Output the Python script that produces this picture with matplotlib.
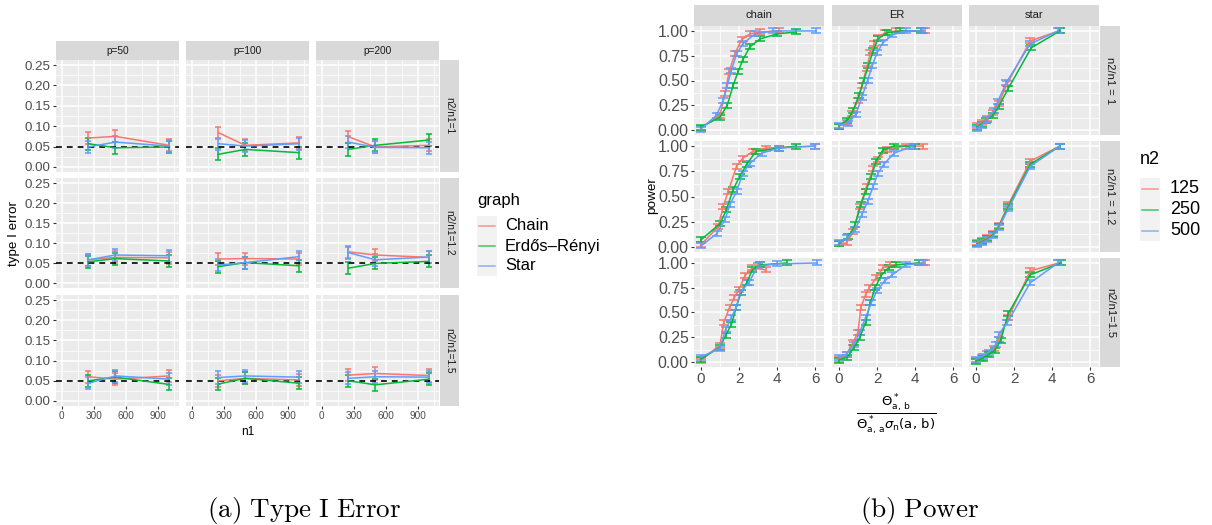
import matplotlib
matplotlib.use("Agg")
import matplotlib.pyplot as plt
from matplotlib.lines import Line2D
from matplotlib.patches import Rectangle

plt.rcParams['font.family'] = ['Liberation Sans', 'DejaVu Sans']
plt.rcParams['mathtext.fontset'] = 'dejavusans'

W, H = 1212, 525

# ---------------- Type I error data ----------------
N1 = [250, 500, 1000]
P_LABELS = ['p=50', 'p=100', 'p=200']
T1_ROW_LABELS = ['n2/n1=1', 'n2/n1=1.2', 'n2/n1=1.5']
GRAPH_NAMES = ['Chain', 'Erdős–Rényi', 'Star']
T1_ERR = 0.015  # half-width of the error bars
T1_THRESHOLD = 0.05

# rows: ratio, inner lists: p=50, p=100, p=200 ; values at n1 = 250, 500, 1000
t1_chain_r1 = [[0.071, 0.075, 0.053], [0.084, 0.053, 0.059], [0.074, 0.049, 0.053]]
t1_er_r1 = [[0.057, 0.047, 0.049], [0.031, 0.043, 0.035], [0.043, 0.053, 0.066]]
t1_star_r1 = [[0.049, 0.061, 0.051], [0.057, 0.051, 0.057], [0.061, 0.048, 0.047]]

t1_chain_r2 = [[0.058, 0.064, 0.063], [0.060, 0.061, 0.060], [0.078, 0.070, 0.064]]
t1_er_r2 = [[0.053, 0.061, 0.055], [0.041, 0.051, 0.043], [0.037, 0.049, 0.054]]
t1_star_r2 = [[0.058, 0.070, 0.068], [0.045, 0.051, 0.066], [0.076, 0.058, 0.065]]

t1_chain_r3 = [[0.060, 0.054, 0.062], [0.050, 0.056, 0.052], [0.064, 0.068, 0.063]]
t1_er_r3 = [[0.050, 0.059, 0.041], [0.042, 0.056, 0.044], [0.050, 0.040, 0.054]]
t1_star_r3 = [[0.044, 0.062, 0.054], [0.058, 0.062, 0.059], [0.056, 0.060, 0.059]]

# ---------------- Power data ----------------
PW_COL_LABELS = ['chain', 'ER', 'star']
PW_ROW_LABELS = ['n2/n1 = 1', 'n2/n1 = 1.2', 'n2/n1=1.5']
N2_LEVELS = ['125', '250', '500']
PW_ERR = 0.025

# chain, n2/n1 = 1
pw_chain_r1_125_x = [0, 1.0, 1.26, 1.48, 1.78, 2.13, 2.57, 3.1, 4.1]
pw_chain_r1_125_y = [0.02, 0.15, 0.37, 0.59, 0.77, 0.91, 0.97, 0.99, 1.0]
pw_chain_r1_250_x = [0, 1.0, 1.38, 1.69, 1.95, 2.2, 2.57, 3.1, 4.0, 5.0]
pw_chain_r1_250_y = [0.03, 0.13, 0.25, 0.45, 0.59, 0.71, 0.84, 0.92, 0.97, 0.99]
pw_chain_r1_500_x = [0, 0.82, 1.17, 1.38, 1.6, 1.87, 2.2, 2.83, 3.8, 6.05]
pw_chain_r1_500_y = [0.01, 0.15, 0.30, 0.45, 0.60, 0.77, 0.87, 0.97, 1.0, 1.0]
# ER, n2/n1 = 1
pw_er_r1_125_x = [0, 0.4, 0.7, 1.0, 1.2, 1.45, 1.65, 1.85, 2.05, 2.4, 3.0, 4.5]
pw_er_r1_125_y = [0.04, 0.08, 0.17, 0.30, 0.45, 0.62, 0.78, 0.87, 0.93, 0.98, 1.0, 1.0]
pw_er_r1_250_x = [0, 0.45, 0.75, 1.05, 1.3, 1.55, 1.8, 2.05, 2.5, 3.2, 4.3]
pw_er_r1_250_y = [0.04, 0.10, 0.20, 0.35, 0.50, 0.65, 0.80, 0.92, 0.98, 1.0, 1.0]
pw_er_r1_500_x = [0, 0.5, 0.9, 1.2, 1.5, 1.75, 2.0, 2.3, 2.8, 3.5, 4.4]
pw_er_r1_500_y = [0.05, 0.07, 0.16, 0.33, 0.50, 0.65, 0.78, 0.88, 0.96, 1.0, 1.0]
# star, n2/n1 = 1
pw_star_r1_125_x = [0.05, 0.3, 0.6, 0.9, 1.2, 1.65, 2.85, 4.35]
pw_star_r1_125_y = [0.05, 0.08, 0.12, 0.18, 0.27, 0.47, 0.90, 1.0]
pw_star_r1_250_x = [0.05, 0.3, 0.55, 0.9, 1.2, 1.7, 2.9, 4.4]
pw_star_r1_250_y = [0.03, 0.06, 0.10, 0.15, 0.24, 0.42, 0.83, 1.0]
pw_star_r1_500_x = [0.05, 0.3, 0.6, 0.95, 1.15, 1.6, 2.85, 4.3]
pw_star_r1_500_y = [0.02, 0.05, 0.11, 0.20, 0.29, 0.48, 0.87, 1.0]

# chain, n2/n1 = 1.2
pw_chain_r2_125_x = [0, 0.9, 1.17, 1.43, 1.87, 2.2, 2.74, 3.4, 6.0]
pw_chain_r2_125_y = [0.02, 0.20, 0.40, 0.55, 0.80, 0.88, 0.95, 0.98, 1.0]
pw_chain_r2_250_x = [0, 1.0, 1.34, 1.69, 2.04, 2.4, 2.9, 4.1, 5.0]
pw_chain_r2_250_y = [0.07, 0.23, 0.37, 0.57, 0.70, 0.82, 0.95, 0.98, 1.0]
pw_chain_r2_500_x = [0, 0.82, 1.26, 1.52, 1.87, 2.2, 2.57, 3.2, 4.1, 6.0]
pw_chain_r2_500_y = [0.01, 0.13, 0.27, 0.42, 0.55, 0.73, 0.83, 0.93, 0.98, 1.0]
# ER, n2/n1 = 1.2
pw_er_r2_125_x = [0, 0.4, 0.75, 1.1, 1.45, 1.8, 2.05, 2.5, 3.5, 4.4]
pw_er_r2_125_y = [0.03, 0.04, 0.15, 0.40, 0.60, 0.78, 0.87, 0.97, 1.0, 1.0]
pw_er_r2_250_x = [0, 0.5, 0.85, 1.15, 1.4, 1.7, 1.95, 2.3, 2.9, 4.0]
pw_er_r2_250_y = [0.03, 0.10, 0.22, 0.42, 0.55, 0.70, 0.85, 0.96, 1.0, 1.0]
pw_er_r2_500_x = [0, 0.45, 0.85, 1.2, 1.5, 1.8, 2.05, 2.35, 2.9, 3.9]
pw_er_r2_500_y = [0.04, 0.09, 0.17, 0.32, 0.45, 0.60, 0.73, 0.82, 0.93, 1.0]
# star, n2/n1 = 1.2
pw_star_r2_125_x = [0.05, 0.3, 0.6, 0.9, 1.2, 1.7, 2.85, 4.4]
pw_star_r2_125_y = [0.04, 0.06, 0.09, 0.13, 0.21, 0.42, 0.85, 1.0]
pw_star_r2_250_x = [0.05, 0.3, 0.6, 0.9, 1.2, 1.7, 2.85, 4.4]
pw_star_r2_250_y = [0.03, 0.05, 0.08, 0.12, 0.20, 0.40, 0.82, 1.0]
pw_star_r2_500_x = [0.05, 0.3, 0.6, 0.9, 1.2, 1.7, 2.85, 4.4]
pw_star_r2_500_y = [0.02, 0.04, 0.07, 0.11, 0.19, 0.38, 0.80, 1.0]

# chain, n2/n1 = 1.5
pw_chain_r3_125_x = [0, 1.0, 1.2, 1.5, 1.75, 2.0, 2.3, 2.7, 3.4]
pw_chain_r3_125_y = [0.02, 0.17, 0.40, 0.55, 0.65, 0.73, 0.87, 0.95, 0.93]
pw_chain_r3_250_x = [0, 1.0, 1.3, 1.6, 1.85, 2.1, 2.4, 2.7, 3.1, 4.5]
pw_chain_r3_250_y = [0.03, 0.15, 0.27, 0.38, 0.55, 0.70, 0.80, 0.93, 0.98, 1.0]
pw_chain_r3_500_x = [0, 1.0, 1.3, 1.6, 1.85, 2.05, 2.5, 3.0, 4.0, 6.1]
pw_chain_r3_500_y = [0.05, 0.14, 0.33, 0.45, 0.55, 0.70, 0.80, 0.97, 0.99, 1.0]
# ER, n2/n1 = 1.5
pw_er_r3_125_x = [0, 0.4, 0.75, 1.0, 1.15, 1.4, 1.6, 1.95, 2.3, 2.7, 4.5]
pw_er_r3_125_y = [0.03, 0.08, 0.20, 0.30, 0.55, 0.68, 0.75, 0.85, 0.95, 0.98, 1.0]
pw_er_r3_250_x = [0, 0.45, 0.8, 1.1, 1.4, 1.65, 1.9, 2.2, 2.6, 3.0, 4.2]
pw_er_r3_250_y = [0.02, 0.05, 0.15, 0.25, 0.40, 0.60, 0.75, 0.87, 0.95, 0.98, 1.0]
pw_er_r3_500_x = [0, 0.4, 0.8, 1.1, 1.4, 1.7, 2.0, 2.4, 2.8, 3.5, 4.4]
pw_er_r3_500_y = [0.05, 0.08, 0.18, 0.30, 0.45, 0.60, 0.72, 0.82, 0.88, 0.98, 1.0]
# star, n2/n1 = 1.5
pw_star_r3_125_x = [0, 0.3, 0.6, 0.95, 1.2, 1.7, 2.85, 4.35]
pw_star_r3_125_y = [0.02, 0.05, 0.09, 0.14, 0.23, 0.45, 0.92, 1.0]
pw_star_r3_250_x = [0, 0.35, 0.7, 1.0, 1.3, 1.7, 2.85, 4.45]
pw_star_r3_250_y = [0.01, 0.04, 0.08, 0.12, 0.22, 0.49, 0.88, 1.0]
pw_star_r3_500_x = [0, 0.35, 0.7, 1.05, 1.2, 1.65, 2.85, 4.3]
pw_star_r3_500_y = [0.03, 0.06, 0.10, 0.18, 0.28, 0.40, 0.80, 1.0]

# tables built from the named lists
T1_TABLE = [
    [t1_chain_r1, t1_er_r1, t1_star_r1],
    [t1_chain_r2, t1_er_r2, t1_star_r2],
    [t1_chain_r3, t1_er_r3, t1_star_r3],
]
PW_TABLE = [
    [  # row 1
        [(pw_chain_r1_125_x, pw_chain_r1_125_y), (pw_chain_r1_250_x, pw_chain_r1_250_y), (pw_chain_r1_500_x, pw_chain_r1_500_y)],
        [(pw_er_r1_125_x, pw_er_r1_125_y), (pw_er_r1_250_x, pw_er_r1_250_y), (pw_er_r1_500_x, pw_er_r1_500_y)],
        [(pw_star_r1_125_x, pw_star_r1_125_y), (pw_star_r1_250_x, pw_star_r1_250_y), (pw_star_r1_500_x, pw_star_r1_500_y)],
    ],
    [  # row 2
        [(pw_chain_r2_125_x, pw_chain_r2_125_y), (pw_chain_r2_250_x, pw_chain_r2_250_y), (pw_chain_r2_500_x, pw_chain_r2_500_y)],
        [(pw_er_r2_125_x, pw_er_r2_125_y), (pw_er_r2_250_x, pw_er_r2_250_y), (pw_er_r2_500_x, pw_er_r2_500_y)],
        [(pw_star_r2_125_x, pw_star_r2_125_y), (pw_star_r2_250_x, pw_star_r2_250_y), (pw_star_r2_500_x, pw_star_r2_500_y)],
    ],
    [  # row 3
        [(pw_chain_r3_125_x, pw_chain_r3_125_y), (pw_chain_r3_250_x, pw_chain_r3_250_y), (pw_chain_r3_500_x, pw_chain_r3_500_y)],
        [(pw_er_r3_125_x, pw_er_r3_125_y), (pw_er_r3_250_x, pw_er_r3_250_y), (pw_er_r3_500_x, pw_er_r3_500_y)],
        [(pw_star_r3_125_x, pw_star_r3_125_y), (pw_star_r3_250_x, pw_star_r3_250_y), (pw_star_r3_500_x, pw_star_r3_500_y)],
    ],
]

COLORS = ['#F8766D', '#00BA38', '#619CFF']
PANEL_BG = '#EBEBEB'
STRIP_BG = '#D9D9D9'
TICK_TXT = '#4D4D4D'
TICK_COL = '#333333'

fig = plt.figure(figsize=(W / 100, H / 100), dpi=100)


def fx(x):
    return x / W


def fy(y):
    return 1 - y / H


def px_axes(x0, y0, x1, y1):
    return fig.add_axes([x0 / W, 1 - y1 / H, (x1 - x0) / W, (y1 - y0) / H])


def style_panel(ax, xmaj, xmin, ymaj, ymin, xlim, ylim, show_x, show_y, xfs, yfs):
    ax.set_facecolor(PANEL_BG)
    for s in ax.spines.values():
        s.set_visible(False)
    ax.set_xlim(*xlim)
    ax.set_ylim(*ylim)
    ax.set_xticks(xmaj)
    ax.set_xticks(xmin, minor=True)
    ax.set_yticks(ymaj)
    ax.set_yticks(ymin, minor=True)
    ax.grid(which='major', color='white', lw=1.1)
    ax.grid(which='minor', color='white', lw=0.55)
    ax.set_axisbelow(True)
    ax.tick_params(which='minor', length=0)
    ax.tick_params(axis='x', which='major', length=2.2 if show_x else 0, width=0.8,
                   color=TICK_COL, labelbottom=show_x, labelsize=xfs, labelcolor=TICK_TXT, pad=1.5)
    ax.tick_params(axis='y', which='major', length=2.2 if show_y else 0, width=0.8,
                   color=TICK_COL, labelleft=show_y, labelsize=yfs, labelcolor=TICK_TXT, pad=1.5)


def strip(x0, y0, x1, y1, text, fs, rot=0):
    sa = px_axes(x0, y0, x1, y1)
    sa.set_facecolor(STRIP_BG)
    sa.set_xticks([])
    sa.set_yticks([])
    for s in sa.spines.values():
        s.set_visible(False)
    sa.text(0.5, 0.5, text, transform=sa.transAxes, ha='center', va='center',
            fontsize=fs, color='#1A1A1A', rotation=rot)


# ================= (a) Type I Error =================
t1_cols = [(56, 179), (186, 309), (316, 439)]
t1_rows = [(60, 172), (178, 288), (295, 406)]
for i, (ry0, ry1) in enumerate(t1_rows):
    for j, (cx0, cx1) in enumerate(t1_cols):
        ax = px_axes(cx0, ry0, cx1, ry1)
        style_panel(ax, [0, 300, 600, 900], [150, 450, 750, 1050],
                    [0, 0.05, 0.10, 0.15, 0.20, 0.25],
                    [0.025, 0.075, 0.125, 0.175, 0.225],
                    (-52, 1092), (-0.0125, 0.2625), i == 2, j == 0, 7.2, 9.6)
        ax.set_yticklabels(['0.00', '0.05', '0.10', '0.15', '0.20', '0.25'])
        for g in range(3):
            vals = T1_TABLE[i][g][j]
            ax.errorbar(N1, vals, yerr=T1_ERR, color=COLORS[g], lw=1.1,
                        elinewidth=1.1, capsize=2.0, capthick=1.1)
        ax.axhline(T1_THRESHOLD, color='black', lw=1.2, ls=(0, (3.5, 3)))
        if i == 0:
            strip(cx0, 41, cx1, 60, P_LABELS[j], 7.3)
    strip(440, ry0, 459, ry1, T1_ROW_LABELS[i], 7.3, rot=-90)

fig.text(fx(14), fy(233), 'type I error', rotation=90, ha='center', va='center', fontsize=9.6, color='black')
fig.text(fx(247.5), fy(432), 'n1', ha='center', va='center', fontsize=8.6, color='black')

# legend (graph)
fig.text(fx(477), fy(200), 'graph', ha='left', va='center', fontsize=12, color='black')
for k, name in enumerate(GRAPH_NAMES):
    ky0 = 216 + 20 * k
    fig.add_artist(Rectangle((fx(477), fy(ky0 + 20)), 20 / W, 20 / H, transform=fig.transFigure,
                             facecolor='#F2F2F2', edgecolor='none'))
    fig.add_artist(Line2D([fx(479), fx(495)], [fy(ky0 + 10)] * 2, transform=fig.transFigure,
                          color=COLORS[k], lw=1.1, alpha=0.75))
    fig.text(fx(505), fy(ky0 + 10), name, ha='left', va='center', fontsize=12, color='black')

# ================= (b) Power =================
pw_cols = [(694, 824), (832, 962), (969, 1099)]
pw_rows = [(26, 135), (141, 252), (258, 367)]
for i, (ry0, ry1) in enumerate(pw_rows):
    for j, (cx0, cx1) in enumerate(pw_cols):
        ax = px_axes(cx0, ry0, cx1, ry1)
        style_panel(ax, [0, 2, 4, 6], [1, 3, 5],
                    [0, 0.25, 0.5, 0.75, 1.0], [0.125, 0.375, 0.625, 0.875],
                    (-0.36, 6.45), (-0.05, 1.05), i == 2, j == 0, 11, 11.4)
        ax.set_yticklabels(['0.00', '0.25', '0.50', '0.75', '1.00'])
        for g in range(3):
            xs, ys = PW_TABLE[i][j][g]
            ax.errorbar(xs, ys, yerr=PW_ERR, color=COLORS[g], lw=1.1,
                        elinewidth=1.1, capsize=3.5, capthick=1.1)
        if i == 0:
            strip(cx0, 5, cx1, 26, PW_COL_LABELS[j], 8)
    strip(1100, ry0, 1120, ry1, PW_ROW_LABELS[i], 8, rot=-90)

fig.text(fx(652), fy(196), 'power', rotation=90, ha='center', va='center', fontsize=9.7, color='black')
fig.text(fx(896), fy(414),
         r'$\frac{\Theta^*_{\mathrm{a,\,b}}}{\Theta^*_{\mathrm{a,\,a}}\sigma_\mathrm{n}\mathrm{(a,\,b)}}$',
         ha='center', va='center', fontsize=13.5, color='black')

# legend (n2)
fig.text(fx(1140), fy(160), 'n2', ha='left', va='center', fontsize=13, color='black')
for k, lab in enumerate(N2_LEVELS):
    ky0 = 178 + 21 * k
    fig.add_artist(Rectangle((fx(1140), fy(ky0 + 21)), 20 / W, 21 / H, transform=fig.transFigure,
                             facecolor='#F2F2F2', edgecolor='none'))
    fig.add_artist(Line2D([fx(1142), fx(1158)], [fy(ky0 + 10.5)] * 2, transform=fig.transFigure,
                          color=COLORS[k], lw=1.1, alpha=0.75))
    fig.text(fx(1170), fy(ky0 + 10.5), lab, ha='left', va='center', fontsize=13, color='black')

# captions
fig.text(fx(304), fy(510), r'$\mathrm{(a)\ Type\ I\ Error}$', ha='center', va='center',
         fontsize=19.5, math_fontfamily='cm', color='black')
fig.text(fx(920), fy(510), r'$\mathrm{(b)\ Power}$', ha='center', va='center',
         fontsize=19.5, math_fontfamily='cm', color='black')

fig.savefig('out.png', dpi=100)
